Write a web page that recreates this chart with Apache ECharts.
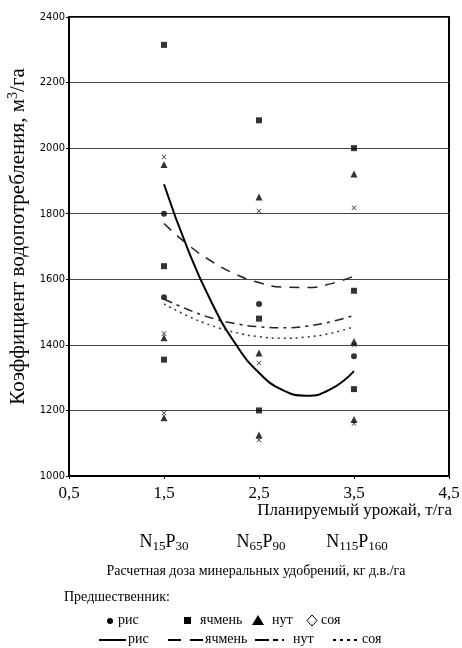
<!DOCTYPE html>
<html><head><meta charset="utf-8">
<script src="https://cdn.jsdelivr.net/npm/echarts@6/dist/echarts.min.js"></script>
<style>html,body{margin:0;padding:0;background:#fff}#c{width:462px;height:648px}</style>
</head><body><div id="c"></div><script>
// ---- data ----
const xTicks = [0.5, 1.5, 2.5, 3.5, 4.5];
const yTicks = [1000, 1200, 1400, 1600, 1800, 2000, 2200, 2400];
const doseLabels = [['15','30'], ['65','90'], ['115','160']];
// observed points (planned yield t/ha, coefficient m3/ha)
const risPts = [[1.5,1800],[1.5,1545],[2.5,1525],[3.5,1365]];
const yachmenPts = [[1.5,2315],[1.5,1640],[1.5,1355],[2.5,2085],[2.5,1480],[2.5,1200],[3.5,2000],[3.5,1565],[3.5,1265]];
const nutPts = [[1.5,1950],[1.5,1422],[1.5,1178],[2.5,1851],[2.5,1375],[2.5,1125],[3.5,1921],[3.5,1410],[3.5,1172]];
const soyaPts = [[1.5,1973],[1.5,1435],[1.5,1192],[2.5,1808],[2.5,1345],[2.5,1110],[3.5,1818],[3.5,1400],[3.5,1160]];
// trend curves
const trendX = [1.5, 1.75, 2.0, 2.25, 2.5, 2.75, 3.0, 3.25, 3.5];
const risTrend = [1890, 1692, 1530, 1404, 1315, 1262, 1245, 1264, 1320];
const yachmenTrend = [1770, 1706, 1655, 1616, 1590, 1576, 1575, 1586, 1610];
const nutTrend = [1540, 1508, 1482, 1465, 1455, 1452, 1457, 1470, 1490];
const soyaTrend = [1525, 1488, 1459, 1438, 1425, 1420, 1424, 1435, 1455];

const SERIF = '"Liberation Serif","Times New Roman",serif';
const pair = (xs, ys) => xs.map((x, i) => [x, ys[i]]);
const xSym = 'path://M0,1L1,0L5,4L9,0L10,1L6,5L10,9L9,10L5,6L1,10L0,9L4,5Z';

const chart = echarts.init(document.getElementById('c'), null, {renderer: 'canvas'});

function doseText(k) {
  return '{n|N}{s|' + doseLabels[k][0] + '}{n|P}{s|' + doseLabels[k][1] + '}';
}
const doseRich = {
  n: {fontFamily: SERIF, fontSize: 18, color: '#000'},
  s: {fontFamily: SERIF, fontSize: 13, color: '#000', padding: [9, 0, 0, 0]}
};

const graphic = [
  {type: 'text', right: 10, top: 502, style: {text: 'Планируемый урожай, т/га', font: '17px ' + SERIF, fill: '#000'}},
  {type: 'text', x: 164, y: 531, style: {text: doseText(0), rich: doseRich, align: 'center'}},
  {type: 'text', x: 261, y: 531, style: {text: doseText(1), rich: doseRich, align: 'center'}},
  {type: 'text', x: 357, y: 531, style: {text: doseText(2), rich: doseRich, align: 'center'}},
  {type: 'text', x: 256, y: 564, style: {text: 'Расчетная доза минеральных удобрений, кг д.в./га', font: '14px ' + SERIF, fill: '#000', align: 'center'}},
  {type: 'text', x: 64, y: 590, style: {text: 'Предшественник:', font: '14px ' + SERIF, fill: '#000'}},
  // legend row 1 (markers)
  {type: 'circle', shape: {cx: 110, cy: 621, r: 3}, style: {fill: '#000'}},
  {type: 'text', x: 118, y: 613, style: {text: 'рис', font: '14px ' + SERIF, fill: '#000'}},
  {type: 'rect', shape: {x: 184, y: 617, width: 7, height: 7}, style: {fill: '#000'}},
  {type: 'text', x: 200, y: 613, style: {text: 'ячмень', font: '14px ' + SERIF, fill: '#000'}},
  {type: 'polygon', shape: {points: [[252,625],[264,625],[258,615]]}, style: {fill: '#000'}},
  {type: 'text', x: 272, y: 613, style: {text: 'нут', font: '14px ' + SERIF, fill: '#000'}},
  {type: 'polygon', shape: {points: [[312,615],[317,620.5],[312,626],[307,620.5]]}, style: {fill: '#fff', stroke: '#000', lineWidth: 1}},
  {type: 'text', x: 321, y: 613, style: {text: 'соя', font: '14px ' + SERIF, fill: '#000'}},
  // legend row 2 (lines)
  {type: 'line', shape: {x1: 99, y1: 640, x2: 126, y2: 640}, style: {stroke: '#000', lineWidth: 2}},
  {type: 'text', x: 128, y: 632, style: {text: 'рис', font: '14px ' + SERIF, fill: '#000'}},
  {type: 'line', shape: {x1: 168, y1: 640, x2: 203, y2: 640}, style: {stroke: '#000', lineWidth: 2, lineDash: [13, 9]}},
  {type: 'text', x: 205, y: 632, style: {text: 'ячмень', font: '14px ' + SERIF, fill: '#000'}},
  {type: 'line', shape: {x1: 255, y1: 640, x2: 290, y2: 640}, style: {stroke: '#000', lineWidth: 2, lineDash: [14, 4, 5, 4, 2, 20]}},
  {type: 'text', x: 293, y: 632, style: {text: 'нут', font: '14px ' + SERIF, fill: '#000'}},
  {type: 'line', shape: {x1: 333, y1: 640, x2: 360, y2: 640}, style: {stroke: '#000', lineWidth: 2, lineDash: [3, 4]}},
  {type: 'text', x: 362, y: 632, style: {text: 'соя', font: '14px ' + SERIF, fill: '#000'}}
];

const option = {
  backgroundColor: '#fff',
  animation: false,
  grid: {left: 69, right: 13, top: 17, bottom: 172, show: true, borderColor: '#000', borderWidth: 2,
    backgroundColor: 'transparent', containLabel: false, outerBoundsMode: 'none'},
  xAxis: {
    type: 'value', min: 0.5, max: 4.5,
    axisLine: {show: true, lineStyle: {color: '#000', width: 2}},
    axisTick: {show: true, length: 3, inside: false, customValues: xTicks, lineStyle: {color: '#000'}},
    axisLabel: {customValues: xTicks, margin: 9, fontFamily: SERIF, fontSize: 17, color: '#000',
      formatter: v => String(v).replace('.', ',')},
    splitLine: {show: false}
  },
  yAxis: {
    type: 'value', min: 1000, max: 2400, interval: 200,
    name: 'Коэффициент водопотребления, м{sup|3}/га',
    nameLocation: 'middle', nameGap: 35,
    nameTextStyle: {fontFamily: SERIF, fontSize: 21, color: '#000', padding: [0, 0, 0, 20],
      rich: {sup: {fontFamily: SERIF, fontSize: 14, color: '#000', padding: [0, 0, 10, 0]}}},
    axisLine: {show: true, lineStyle: {color: '#000', width: 2}},
    axisTick: {show: true, length: 3, lineStyle: {color: '#000'}},
    axisLabel: {margin: 4, fontFamily: '"Liberation Sans Narrow","DejaVu Sans Condensed",sans-serif', fontSize: 11, color: '#000',
      customValues: yTicks, formatter: v => String(v)},
    splitLine: {show: true, lineStyle: {color: '#444', width: 1}}
  },
  graphic: graphic,
  series: [
    {name: 'рис', type: 'scatter', data: risPts, symbol: 'circle', symbolSize: 6, itemStyle: {color: '#000'}},
    {name: 'ячмень', type: 'scatter', data: yachmenPts, symbol: 'rect', symbolSize: 6, itemStyle: {color: '#000'}},
    {name: 'нут', type: 'scatter', data: nutPts, symbol: 'triangle', symbolSize: 7, itemStyle: {color: '#000'}},
    {name: 'соя', type: 'scatter', data: soyaPts, symbol: xSym, symbolSize: 5, itemStyle: {color: '#000'}},
    {name: 'рис тренд', type: 'line', data: pair(trendX, risTrend), smooth: true, symbol: 'none', lineStyle: {color: '#000', width: 2}},
    {name: 'ячмень тренд', type: 'line', data: pair(trendX, yachmenTrend), smooth: true, symbol: 'none', lineStyle: {color: '#222', width: 1.5, type: [10, 8]}},
    {name: 'нут тренд', type: 'line', data: pair(trendX, nutTrend), smooth: true, symbol: 'none', lineStyle: {color: '#222', width: 1.5, type: [9, 5, 3, 5]}},
    {name: 'соя тренд', type: 'line', data: pair(trendX, soyaTrend), smooth: true, symbol: 'none', lineStyle: {color: '#333', width: 1.5, type: [2, 4]}}
  ]
};
chart.setOption(option);
</script></body></html>
